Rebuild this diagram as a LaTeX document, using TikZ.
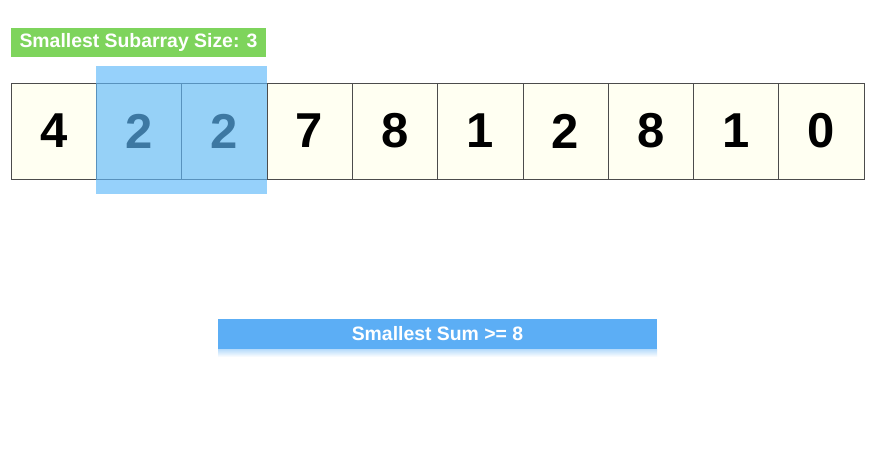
\documentclass[tikz,border=0pt]{standalone}
\usepackage{fontspec}
\setmainfont{Liberation Sans}
\definecolor{cellBg}{RGB}{255,255,242}
\definecolor{winBlue}{RGB}{ 95,185,250}
\definecolor{sizeGreen}{RGB}{126,212, 92}
\definecolor{barBlue}{RGB}{ 92,174,245}

\begin{document}
\begin{tikzpicture}[
  x=1pt, y=-1pt,
  cell/.style={draw=black!70, line width=0.6pt, fill=cellBg, minimum width=85.3pt,
               minimum height=96pt, inner sep=0pt, font=\fontsize{49}{49}\selectfont\bfseries},
  win/.style={fill=winBlue, fill opacity=0.65, draw=none, minimum width=171pt,
              minimum height=128pt, inner sep=0pt},
  tag/.style={fill=sizeGreen, text=white, minimum width=255pt, minimum height=29pt,
              inner sep=0pt, font=\fontsize{19.4}{19.4}\selectfont\bfseries},
  bar/.style={fill=barBlue, text=white, minimum width=439pt, minimum height=30pt,
              inner sep=0pt, font=\fontsize{19.4}{19.4}\selectfont\bfseries},
]
\useasboundingbox[fill=white] (0,0) rectangle (880,456);

% ============ the array ============
\foreach \v [count=\i] in {4,2,2,7,8,1,2,8,1,0}
  \node[cell] (c\i) at ({11+85.3*(\i-0.5)},131) {\v};

% current window over cells 2 and 3
\node[win] (window) at (181.5,130) {};

% ============ labels ============
\node[tag] (size) at (138.5,42.5) {Smallest Subarray Size: 3};

\shade[top color=barBlue!45, bottom color=white] (218,349) rectangle (657,357);
\node[bar] (sum) at (437.5,334) {Smallest Sum >= 8};

\end{tikzpicture}
\end{document}
